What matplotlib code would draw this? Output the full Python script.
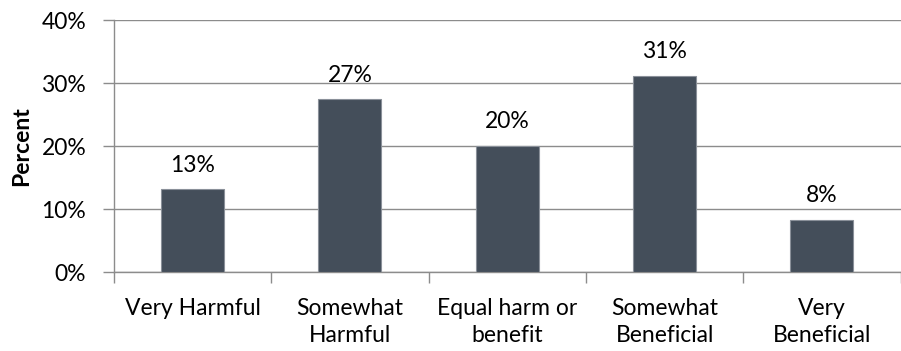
import matplotlib

matplotlib.use("Agg")
import matplotlib.pyplot as plt
import numpy as np
from matplotlib.ticker import FixedLocator, PercentFormatter

categories = ["Very Harmful", "Somewhat\nHarmful", "Equal harm or\nbenefit",
              "Somewhat\nBeneficial", "Very\nBeneficial"]
percent = [13.1, 27.4, 20.0, 31.1, 8.3]
y_ticks = [0, 10, 20, 30, 40]

BAR_COLOR = "#444e5a"
GRID_COLOR = "#8c8c8c"
TEXT_COLOR = "#000000"
FS = 16.5

plt.rcParams["font.family"] = ["Lato", "DejaVu Sans"]

fig = plt.figure(figsize=(9.01, 3.51), dpi=100)
ax = fig.add_axes([0.1265, 0.225, 0.873, 0.718])

x = np.arange(len(categories))
ax.bar(x, percent, width=0.4, color=BAR_COLOR, edgecolor="#8a9099",
       linewidth=0.8, zorder=3)
for xi, v in zip(x, percent):
    ax.text(xi, v + 2.2, f"{v:.0f}%", ha="center", va="bottom",
            fontsize=FS, color=TEXT_COLOR)

ax.set_xlim(-0.5, len(categories) - 0.5)
ax.set_ylim(0, 40)
ax.set_yticks(y_ticks)
ax.yaxis.set_major_formatter(PercentFormatter(decimals=0))
ax.grid(axis="y", color=GRID_COLOR, linewidth=1.0, zorder=0)

ax.set_xticks(x)
ax.set_xticklabels(categories, fontsize=FS, color=TEXT_COLOR, linespacing=1.3)
ax.xaxis.set_minor_locator(FixedLocator(np.arange(-0.5, len(categories), 1.0)))
ax.tick_params(axis="x", which="major", length=0, pad=19)
ax.tick_params(axis="x", which="minor", length=8, width=1.0, color=GRID_COLOR)
ax.tick_params(axis="y", length=8, width=1.0, color=GRID_COLOR,
               labelsize=FS, labelcolor=TEXT_COLOR, pad=12)

for side in ("top", "right"):
    ax.spines[side].set_visible(False)
for side in ("left", "bottom"):
    ax.spines[side].set_color(GRID_COLOR)
    ax.spines[side].set_linewidth(1.0)

ax.set_ylabel("Percent", fontsize=FS, fontweight="bold", labelpad=7)

fig.savefig("out.png", dpi=100, facecolor="white")
